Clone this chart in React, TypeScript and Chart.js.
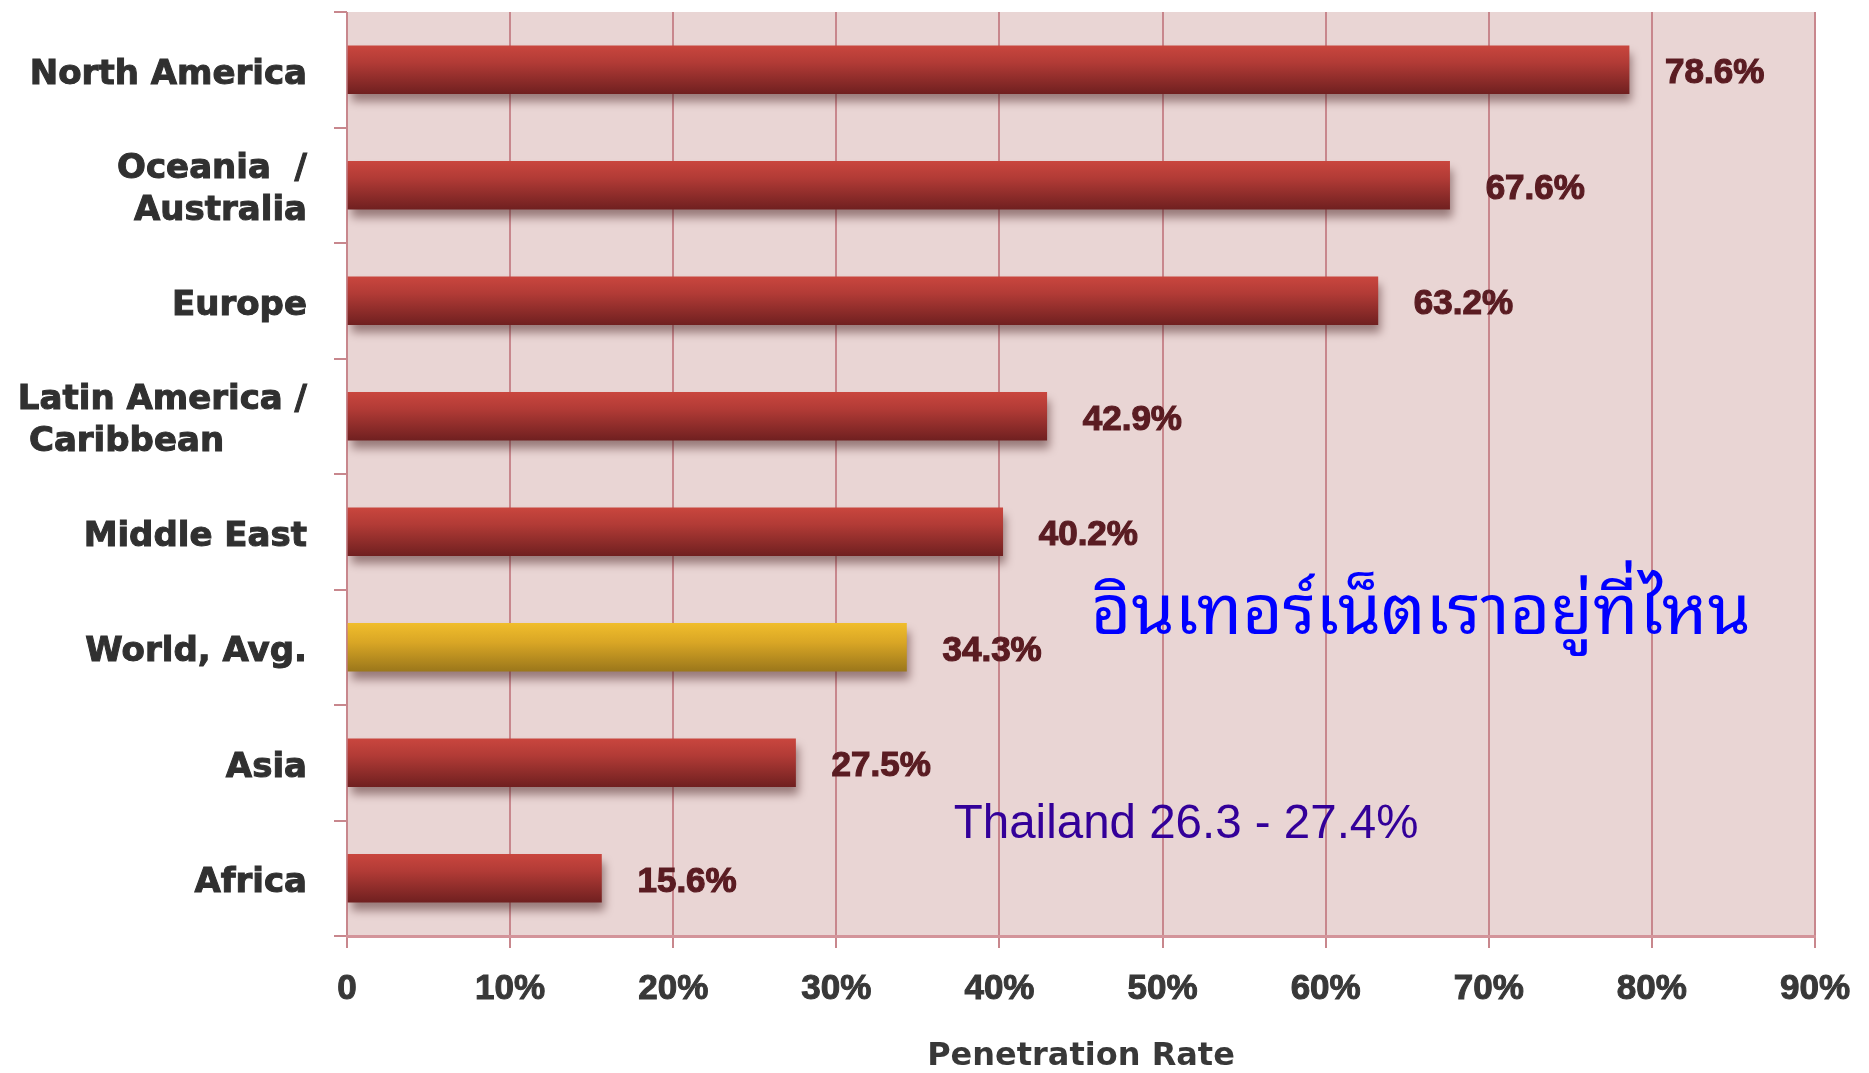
import React, { useEffect, useRef } from 'react';
import { Chart, registerables } from 'chart.js';

Chart.register(...registerables);

const NBSP = '\u00A0';

const categories: (string | string[])[] = [
  'North America',
  ['Oceania  /', 'Australia'],
  'Europe',
  ['Latin America /', 'Caribbean' + NBSP.repeat(7)],
  'Middle East',
  'World, Avg.',
  'Asia',
  'Africa',
];
const penetration = [78.6, 67.6, 63.2, 42.9, 40.2, 34.3, 27.5, 15.6];
const highlightIndex = 5;
const xMin = 0;
const xMax = 90;
const xStep = 10;
const axisTitle = 'Penetration Rate';
const headline = 'อินเทอร์เน็ตเราอยู่ที่ไหน';
const headlinePos = { x: 45.6, y: 4.72 };
const thaiNote = 'Thailand 26.3 - 27.4%';
const thaiNotePos = { x: 37.2, y: 6.54 };

const BAR_T = 48;

function barGradient(ctx: any) {
  const chart = ctx.chart;
  const i = ctx.dataIndex;
  const gold = i === highlightIndex;
  const yScale = chart.scales && chart.scales.y;
  if (!yScale || !chart.chartArea || i === undefined) return gold ? '#d6a424' : '#a83632';
  const c = yScale.getPixelForValue(i);
  const g = chart.ctx.createLinearGradient(0, c - BAR_T / 2, 0, c + BAR_T / 2);
  if (gold) {
    g.addColorStop(0, '#f0bd2c');
    g.addColorStop(0.4, '#d9a625');
    g.addColorStop(1, '#9b771b');
  } else {
    g.addColorStop(0, '#c9463e');
    g.addColorStop(0.35, '#b23b36');
    g.addColorStop(1, '#702020');
  }
  return g;
}

const decorPlugin = {
  id: 'decor',
  beforeDraw(chart: any) {
    const { ctx, chartArea: a } = chart;
    ctx.save();
    ctx.fillStyle = '#e9d5d4';
    ctx.fillRect(a.left, a.top, a.right - a.left, a.bottom - a.top);
    ctx.restore();
  },
  beforeDatasetsDraw(chart: any) {
    const ctx = chart.ctx;
    ctx.save();
    ctx.shadowColor = 'rgba(70, 30, 30, 0.5)';
    ctx.shadowBlur = 9;
    ctx.shadowOffsetX = 3;
    ctx.shadowOffsetY = 8;
  },
  afterDatasetsDraw(chart: any) {
    const ctx = chart.ctx;
    ctx.restore();
    const meta = chart.getDatasetMeta(0);
    ctx.save();
    ctx.font = 'bold 35px "Liberation Sans", Arial, sans-serif';
    ctx.fillStyle = '#5a1c22';
    ctx.strokeStyle = '#5a1c22';
    ctx.lineWidth = 1.2;
    ctx.textAlign = 'left';
    ctx.textBaseline = 'middle';
    meta.data.forEach((bar: any, i: number) => {
      const txt = penetration[i].toFixed(1) + '%';
      ctx.fillText(txt, bar.x + 36, bar.y + 4);
      ctx.strokeText(txt, bar.x + 36, bar.y + 4);
    });
    ctx.restore();

    const xs = chart.scales.x;
    const ys = chart.scales.y;
    ctx.save();
    ctx.textAlign = 'left';
    ctx.textBaseline = 'middle';
    ctx.fillStyle = '#0000ff';
    ctx.font = '69.5px "Noto Sans Thai Looped", Tahoma, "Noto Sans Thai", "Noto Sans", "DejaVu Sans", sans-serif';
    ctx.fillText(headline, xs.getPixelForValue(headlinePos.x), ys.getPixelForValue(headlinePos.y));
    ctx.fillStyle = '#330099';
    ctx.font = '47.5px "Liberation Sans", Arial, sans-serif';
    ctx.fillText(thaiNote, xs.getPixelForValue(thaiNotePos.x), ys.getPixelForValue(thaiNotePos.y));
    ctx.restore();
  },
};

export default function App() {
  const ref = useRef<HTMLCanvasElement | null>(null);
  useEffect(() => {
    document.body.style.margin = '0';
    const canvas = ref.current!;
    const chart = new Chart(canvas, {
      type: 'bar',
      data: {
        labels: categories as any,
        datasets: [
          {
            data: penetration,
            backgroundColor: barGradient as any,
            borderWidth: 0,
            barThickness: BAR_T,
          },
        ],
      },
      options: {
        indexAxis: 'y',
        animation: false,
        responsive: false,
        devicePixelRatio: 1,
        layout: { padding: { top: 12, right: 54, bottom: 0, left: 0 } },
        plugins: {
          legend: { display: false },
          tooltip: { enabled: false },
        },
        scales: {
          x: {
            type: 'linear',
            min: xMin,
            max: xMax,
            afterFit: (s: any) => {
              s.height = 137;
              s.paddingLeft = 0;
              s.paddingRight = 0;
            },
            ticks: {
              stepSize: xStep,
              padding: 20,
              color: '#383838',
              textStrokeColor: '#383838',
              textStrokeWidth: 1,
              font: { family: '"Liberation Sans", Arial, sans-serif', size: 35, weight: 'bold' },
              callback: (v: any) => (Number(v) === 0 ? '0' : v + '%'),
            },
            grid: {
              color: '#c8878d',
              lineWidth: 2,
              tickLength: 12,
              drawTicks: true,
            },
            border: { display: true, color: '#d3949a', width: 3 },
            title: {
              display: true,
              text: axisTitle,
              color: '#383838',
              font: { family: '"DejaVu Sans", sans-serif', size: 32, weight: 'bold', lineHeight: 1 },
              padding: { top: 0, bottom: 0 },
            },
          },
          y: {
            type: 'category',
            afterFit: (s: any) => {
              s.width = 347;
              s.paddingTop = 0;
              s.paddingBottom = 0;
            },
            ticks: {
              padding: 27,
              labelOffset: 5,
              color: '#303030',
              textStrokeColor: '#303030',
              textStrokeWidth: 1,
              font: { family: '"DejaVu Sans", sans-serif', size: 34, weight: 'bold', lineHeight: 1.22 },
            },
            grid: {
              drawOnChartArea: false,
              drawTicks: true,
              tickLength: 13,
              color: '#c8878d',
              lineWidth: 2,
            },
            border: { display: false },
          },
        },
      },
      plugins: [decorPlugin],
    });
    return () => chart.destroy();
  }, []);
  return (
    <div style={{ position: 'fixed', left: 0, top: 0, width: 1869, height: 1073, background: '#ffffff' }}>
      <canvas ref={ref} width={1869} height={1073} style={{ display: 'block' }} />
    </div>
  );
}
